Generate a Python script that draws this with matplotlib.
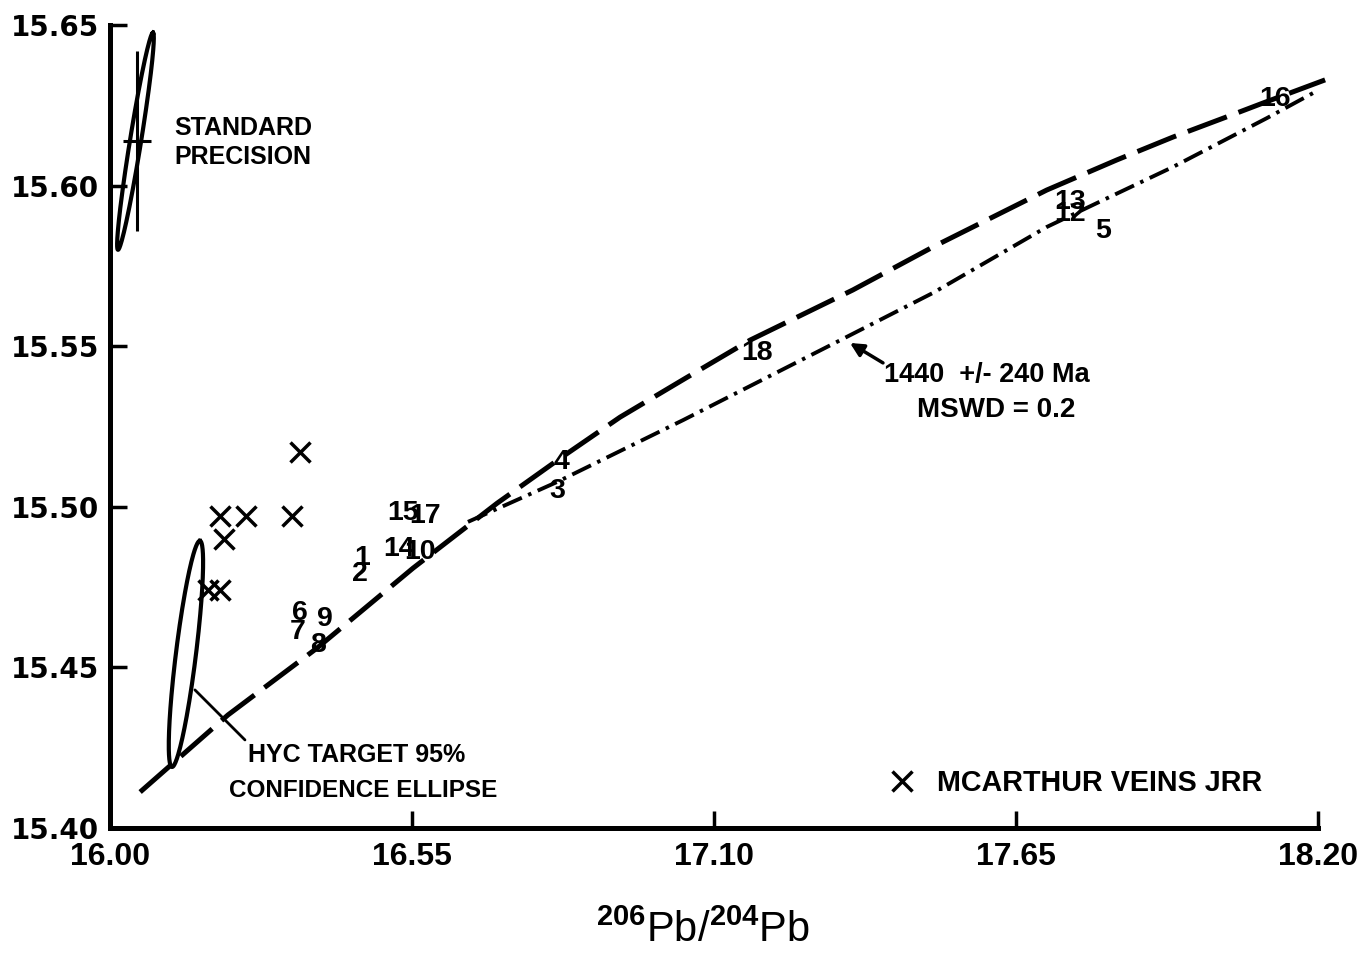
import numpy as np
import matplotlib
matplotlib.use("Agg")
import matplotlib.pyplot as plt

plt.rcParams.update({
    "font.family": "Liberation Sans",
    "font.weight": "bold",
    "lines.scale_dashes": False,
    "mathtext.fontset": "custom",
    "mathtext.rm": "Liberation Sans",
})

# ---------------------------------------------------------------------------
# Data
# ---------------------------------------------------------------------------

# numbered HYC samples, plotted as their own number
sample_ids = ["16", "13", "12", "5", "18", "4", "3", "15", "17", "14", "10",
              "1", "2", "6", "7", "9", "8"]
sample_x = [18.122, 17.748, 17.748, 17.808, 17.178, 16.823, 16.814, 16.534,
            16.574, 16.526, 16.565, 16.459, 16.455, 16.346, 16.342, 16.392,
            16.379]
sample_y = [15.627, 15.595, 15.591, 15.586, 15.548, 15.514, 15.505, 15.498,
            15.497, 15.487, 15.486, 15.484, 15.479, 15.467, 15.461, 15.465,
            15.457]

# McArthur veins (JRR)
veins_x = [16.346, 16.200, 16.248, 16.332, 16.208, 16.179, 16.200]
veins_y = [15.517, 15.497, 15.497, 15.497, 15.490, 15.474, 15.474]

# growth curve (long dashes)
growth_x = [16.055, 16.215, 16.377, 16.552, 16.705, 16.820, 16.929, 17.047,
            17.166, 17.353, 17.499, 17.706, 17.834, 17.936, 18.034, 18.100,
            18.213]
growth_y = [15.4112, 15.4352, 15.4560, 15.4809, 15.5011, 15.5151, 15.5279,
            15.5399, 15.5519, 15.5675, 15.5809, 15.5986, 15.6080, 15.6151,
            15.6214, 15.6257, 15.6329]

# isochron fit 1440 +/- 240 Ma (dash-dot)
iso_x = [16.652, 16.814, 17.044, 17.342, 17.499, 17.706, 17.798, 17.936,
         18.107, 18.191]
iso_y = [15.4953, 15.5077, 15.5270, 15.5529, 15.5666, 15.5871, 15.5946,
         15.6058, 15.6210, 15.6288]

# ellipses: centre, half major-axis vector, half minor-axis vector
hyc_center = (16.1384, 15.4542)
hyc_major = (0.0255, 0.0352)
hyc_minor = (0.0181, -0.0004)

std_center = (16.0465, 15.6138)
std_major = (0.0319, 0.0338)
std_minor = (0.0100, -0.00028)

# standard precision error cross
std_x, std_y = 16.049, 15.614
std_xerr, std_yerr = 0.0255, 0.028

x_ticks = [16.00, 16.55, 17.10, 17.65, 18.20]
y_ticks = [15.40, 15.45, 15.50, 15.55, 15.60, 15.65]


def ellipse_xy(center, major, minor, n=200):
    t = np.linspace(0, 2 * np.pi, n)
    x = center[0] + np.cos(t) * major[0] + np.sin(t) * minor[0]
    y = center[1] + np.cos(t) * major[1] + np.sin(t) * minor[1]
    return x, y


# ---------------------------------------------------------------------------
# Figure
# ---------------------------------------------------------------------------

fig = plt.figure(figsize=(13.59, 9.6), dpi=100)
ax = fig.add_axes([0.0809, 0.1375, 0.8889, 0.8365])
ax.set_xlim(16.00, 18.20)
ax.set_ylim(15.40, 15.65)

for side in ("top", "right"):
    ax.spines[side].set_visible(False)
for side in ("left", "bottom"):
    ax.spines[side].set_linewidth(3.6)

ax.set_xticks(x_ticks)
ax.set_xticklabels([f"{v:.2f}" for v in x_ticks], fontsize=23,
                   fontweight="bold")
ax.set_yticks(y_ticks)
ax.set_yticklabels([f"{v:.2f}" for v in y_ticks], fontsize=20,
                   fontweight="bold", family="DejaVu Sans")
ax.tick_params(axis="both", direction="in", length=12, width=2.5)
ax.tick_params(axis="x", pad=10)
ax.tick_params(axis="y", pad=8)

ax.set_xlabel(r"$^{206}$Pb/$^{204}$Pb", fontsize=30, fontweight="normal")
ax.xaxis.set_label_coords(0.491, -0.103)

# curves
ax.plot(growth_x, growth_y, color="k", lw=3.6, dashes=(30, 9),
        dash_capstyle="butt", clip_on=False)
ax.plot(iso_x, iso_y, color="k", lw=2.8, dashes=(15, 5, 2.5, 5),
        dash_capstyle="butt", clip_on=False)

# ellipses
ex, ey = ellipse_xy(hyc_center, hyc_major, hyc_minor)
ax.plot(ex, ey, color="k", lw=3)
ex, ey = ellipse_xy(std_center, std_major, std_minor)
ax.plot(ex, ey, color="k", lw=3)
ax.errorbar(std_x, std_y, xerr=std_xerr, yerr=std_yerr, fmt="none",
            ecolor="k", elinewidth=2.2, capsize=0)

# numbered samples
for s, x, y in zip(sample_ids, sample_x, sample_y):
    ax.text(x, y, s, ha="center", va="center", fontsize=20.5,
            fontweight="bold")

# veins
ax.plot(veins_x, veins_y, ls="none", marker="x", ms=14, mew=2.5, color="k",
        label="MCARTHUR VEINS JRR")
ax.legend(loc="center right", bbox_to_anchor=(0.9536, 0.056),
          frameon=False, borderpad=0, borderaxespad=0, handlelength=1.0,
          handletextpad=0.7, prop={"weight": "bold", "size": 20.7})

# annotations
ax.text(16.118, 15.6134, "STANDARD\nPRECISION", ha="left", va="center",
        fontsize=18, linespacing=1.25)
ax.text(16.4498, 15.4227, "HYC TARGET 95%", ha="center", va="center",
        fontsize=18)
ax.text(16.4608, 15.4118, "CONFIDENCE ELLIPSE", ha="center", va="center",
        fontsize=17.5)
ax.annotate("", xy=(16.1512, 15.4436), xytext=(16.2495, 15.4268),
            arrowprops=dict(arrowstyle="-", color="k", lw=2))

ax.text(17.597, 15.541, "1440  +/- 240 Ma", ha="center", va="center",
        fontsize=19.5)
ax.text(17.614, 15.5301, "MSWD = 0.2", ha="center", va="center",
        fontsize=20)
ax.annotate("", xy=(17.3477, 15.5510), xytext=(17.4078, 15.5448),
            arrowprops=dict(arrowstyle="-|>", color="k", lw=2.5,
                            mutation_scale=20, shrinkA=0, shrinkB=0))

fig.savefig("out.png", dpi=100)
